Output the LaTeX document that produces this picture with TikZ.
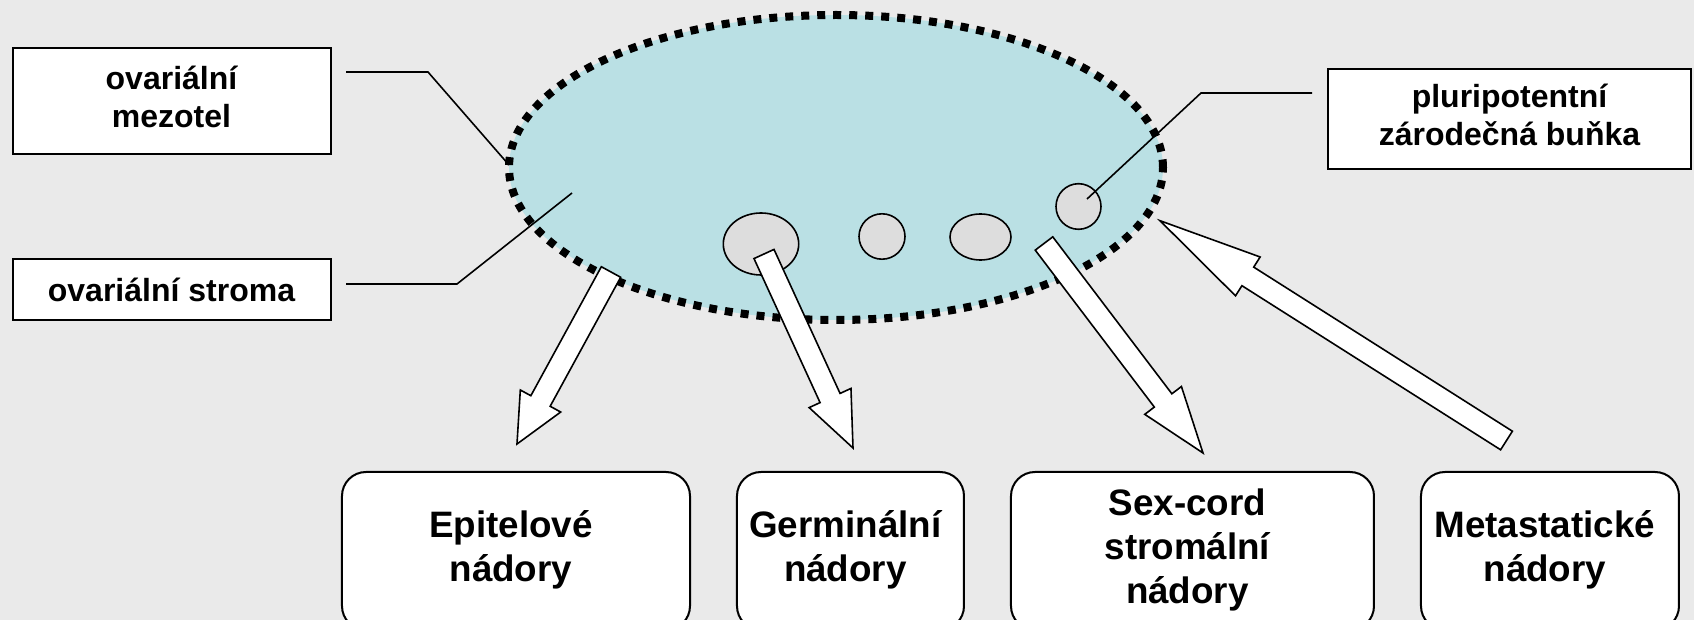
\documentclass[tikz,border=0pt]{standalone}
\usepackage{fontspec}
\setmainfont{Liberation Sans}
\usepackage{xcolor}
\usepackage{tikz}
\usetikzlibrary{matrix,positioning,shapes.geometric,calc}
\definecolor{bgcol}{RGB}{234,234,234}
\definecolor{ovarycol}{RGB}{186,224,228}
\definecolor{cellcol}{RGB}{221,221,221}
\tikzset{
	namebox/.style={draw, line width=1pt, fill=white, inner sep=0pt, align=center, font=\fontsize{16}{19}\selectfont\bfseries},
	tumor/.style={draw, line width=1pt, fill=white, rounded corners=12pt, inner sep=0pt, minimum height=79pt, align=center, font=\fontsize{18.4}{22}\selectfont\bfseries},
	cell/.style={draw, ellipse, line width=0.8pt, fill=cellcol, inner sep=0pt},
	leader/.style={line width=0.8pt}
}
\newcommand{\connectblock}[3]{
	\coordinate (#2-base) at ($(#2)!#3!(#1)$);
	\draw[line width=0.8pt, fill=white] ($(#1)!5.5pt!90:(#2)$) -- ($(#2-base)!5.5pt!90:(#2)$) -- ($(#2-base)!11.5pt!90:(#2)$) -- (#2) -- ($(#2-base)!11.5pt!-90:(#2)$) -- ($(#2-base)!5.5pt!-90:(#2)$) -- ($(#1)!5.5pt!-90:(#2)$) -- cycle;
}
\begin{document}
\begin{tikzpicture}[x=0.5pt, y=-0.5pt]
	\useasboundingbox (0,0) rectangle (1694,620);
	\clip (0,0) rectangle (1694,620);
	\fill[bgcol] (0,0) rectangle (1694,620);

	\node[ellipse, draw, fill=ovarycol, line width=4pt, dash pattern=on 4pt off 4pt,
		minimum width=327pt, minimum height=152.5pt, inner sep=0pt] (ovary) at (836,167.5) {};

	\node[cell, minimum width=37.7pt, minimum height=31pt] (germ-cell) at (761,244) {};
	\node[cell, minimum width=23pt, minimum height=22.7pt] (cell-2) at (882,236.5) {};
	\node[cell, minimum width=30.5pt, minimum height=23pt] (cell-3) at (980.5,237) {};
	\node[cell, minimum width=22.5pt, minimum height=22.8pt] (pluri-cell) at (1078.5,206.5) {};

	\node[namebox, minimum width=159pt, minimum height=53pt] (mezotel) at (171.5,101) {\begin{tabular}{c} ovariální \\ mezotel \end{tabular}};
	\node[namebox, minimum width=159pt, minimum height=30.5pt, below=51.5pt of mezotel] (stroma) {ovariální stroma};
	\node[namebox, minimum width=181.5pt, minimum height=50pt] (pluri) at (1509.5,119) {\begin{tabular}{c} pluripotentní \\ zárodečná buňka \end{tabular}};

	\coordinate (mezotel-a) at (346,72);
	\coordinate (mezotel-b) at (509,165);
	\draw[leader] (mezotel-a) -- ++(82,0) -- (mezotel-b);
	\coordinate (stroma-a) at (346,284);
	\coordinate (stroma-b) at (572,193);
	\draw[leader] (stroma-a) -- ++(111,0) -- (stroma-b);
	\coordinate (pluri-a) at (1087,199);
	\coordinate (pluri-b) at (1312,93);
	\draw[leader] (pluri-a) -- ++(114,-106) -- (pluri-b);

	\matrix (tumors)[matrix of nodes, ampersand replacement=\&,
			column sep=22.5pt, nodes={tumor, anchor=center}] at (1010.5,551) {
		|[minimum width=174pt]| \begin{tabular}{c} Epitelové \\ nádory \end{tabular} \& %tumors-1-1
		|[minimum width=113.5pt]| \begin{tabular}{c} Germinální \\ nádory \end{tabular} \& %tumors-1-2
		|[minimum width=181.5pt]| \begin{tabular}{c} Sex-cord \\ stromální \\ nádory \end{tabular} \& %tumors-1-3
		|[minimum width=129pt]| \begin{tabular}{c} Metastatické \\ nádory \end{tabular} \\ %tumors-1-4
	};

	\coordinate (epi-tail) at (611,272);
	\coordinate (epi-tip) at (517,444);
	\connectblock{epi-tail}{epi-tip}{24.5pt}
	\coordinate (germ-tail) at (764,254);
	\coordinate (germ-tip) at (853,448);
	\connectblock{germ-tail}{germ-tip}{27.5pt}
	\coordinate (stromal-tail) at (1044,243.5);
	\coordinate (stromal-tip) at (1203,453);
	\connectblock{stromal-tail}{stromal-tip}{33pt}
	\coordinate (meta-tail) at (1506.5,440.5);
	\coordinate (meta-tip) at (1160,220.7);
	\connectblock{meta-tail}{meta-tip}{52pt}
\end{tikzpicture}
\end{document}
